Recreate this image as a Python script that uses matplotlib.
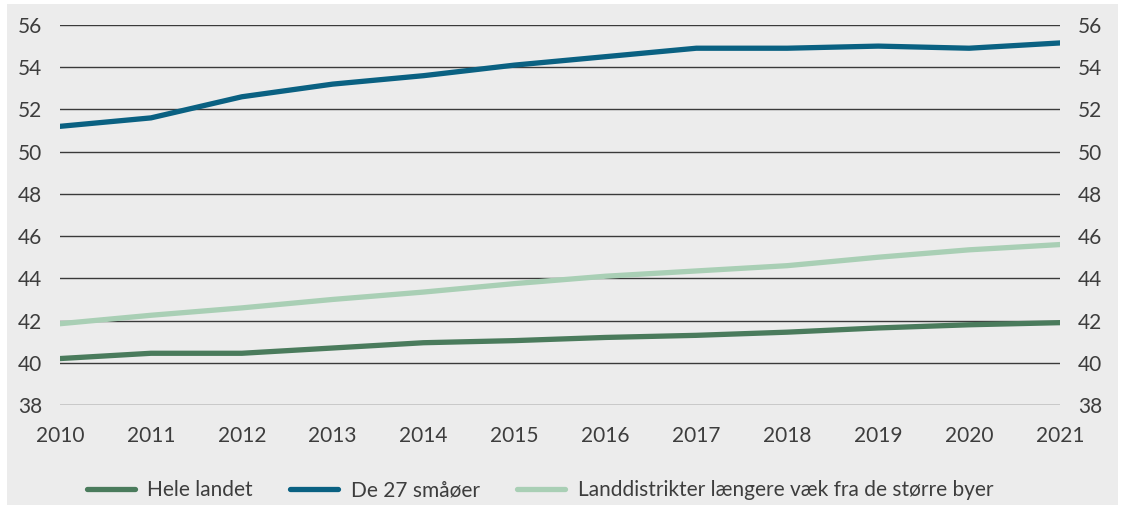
import matplotlib.pyplot as plt
from matplotlib.patches import Rectangle

plt.rcParams['font.family'] = ['Lato', 'DejaVu Sans']

years = [2010, 2011, 2012, 2013, 2014, 2015, 2016, 2017, 2018, 2019, 2020, 2021]
hele_landet = [40.2, 40.45, 40.45, 40.7, 40.95, 41.05, 41.2, 41.3, 41.45, 41.65, 41.8, 41.9]
smaaoer = [51.2, 51.6, 52.6, 53.2, 53.6, 54.1, 54.5, 54.9, 54.9, 55.0, 54.9, 55.15]
landdistrikter = [41.85, 42.25, 42.6, 43.0, 43.35, 43.75, 44.1, 44.35, 44.6, 45.0, 45.35, 45.6]
yticks = list(range(38, 57, 2))

bg = '#ececec'
txt = '#3d3d3d'
fs = 15
fig = plt.figure(figsize=(11.25, 5.09), dpi=100)
# grey panel with a thin white border around it
fig.add_artist(Rectangle((7/1125, 4/509), 1111/1125, 501/509, transform=fig.transFigure,
                         facecolor=bg, edgecolor='none', zorder=-10))

ax = fig.add_axes([60/1125, 1 - 405/509, 1000/1125, 380/509])
ax.set_facecolor('none')

for y in yticks:
    ax.axhline(y, color='#3a3a3a', lw=1.0, zorder=1)

ax.plot(years, hele_landet, color='#4a7b5c', lw=3.8, solid_capstyle='round', label='Hele landet', zorder=3)
ax.plot(years, smaaoer, color='#0a6182', lw=3.8, solid_capstyle='round', label='De 27 småøer', zorder=3)
ax.plot(years, landdistrikter, color='#a9cfb5', lw=3.8, solid_capstyle='round',
        label='Landdistrikter længere væk fra de større byer', zorder=3)

ax.set_xlim(2010, 2021)
ax.set_ylim(38, 56)
ax.set_xticks(years)
ax.set_yticks(yticks)
ax.tick_params(length=0, labelsize=fs, colors=txt)
ax.tick_params(axis='y', pad=13)
ax.tick_params(axis='x', pad=15)
for s in ax.spines.values():
    s.set_visible(False)

ax2 = ax.twinx()
ax2.set_ylim(38, 56)
ax2.set_yticks(yticks)
ax2.tick_params(length=0, labelsize=fs, colors=txt, pad=13)
for s in ax2.spines.values():
    s.set_visible(False)

leg = ax.legend(loc='center', bbox_to_anchor=(0.48, -0.225), ncol=3, frameon=False,
                fontsize=fs, handlelength=2.3, columnspacing=1.8, handletextpad=0.6)
for t in leg.get_texts():
    t.set_color(txt)

fig.savefig('out.png', dpi=100, facecolor='white')
